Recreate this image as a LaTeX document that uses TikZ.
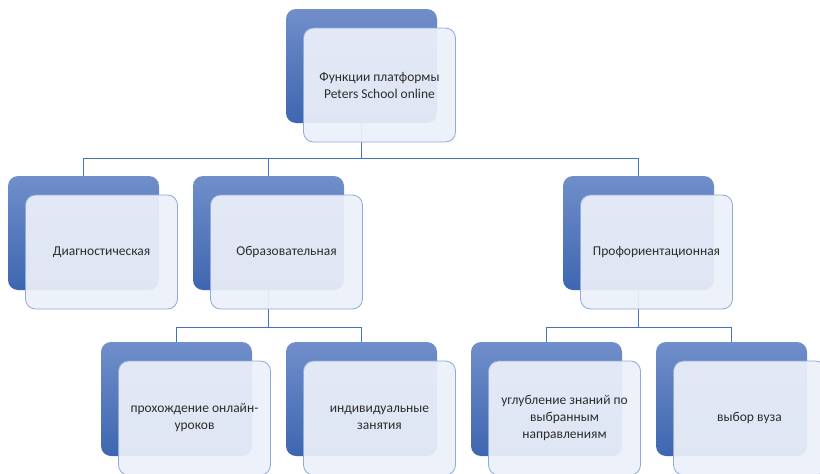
\documentclass[tikz,border=0pt]{standalone}
\usepackage{fontspec}
\setmainfont{Carlito}
\usepackage{tikz}
\usetikzlibrary{positioning, backgrounds}
\definecolor{backtop}{RGB}{112,142,202}
\definecolor{backbot}{RGB}{62,102,176}
\definecolor{frontfill}{RGB}{236,240,249}
\definecolor{frontline}{RGB}{143,170,220}
\definecolor{linkblue}{RGB}{68,114,196}
\definecolor{txtgray}{RGB}{45,45,45}

\begin{document}
\begin{tikzpicture}[
    x=1pt, y=-1pt,
    every node/.style={font=\fontsize{13.5}{17}\selectfont, text=txtgray},
    back/.style={rounded corners=10pt, minimum width=151pt, minimum height=114pt,
        inner sep=0pt, outer sep=0pt, top color=backtop, bottom color=backbot},
    front/.style={draw=frontline, line width=0.8pt, rounded corners=10pt,
        fill=frontfill, fill opacity=0.93, text opacity=1,
        minimum width=152pt, minimum height=114pt, align=center},
    link/.style={draw=linkblue, line width=0.9pt},
]
\useasboundingbox (0,0) rectangle (820,474);

% ── Top: platform functions ──
\node[back] (top) at (361.5,66) {};
\node[front, xshift=18pt, yshift=-19pt] (topf) at (top) {Функции платформы\\Peters School online};

% ── Second row ──
\node[back] (diag) at (83.5,233) {};
\node[front, xshift=18pt, yshift=-19pt] (diagf) at (diag) {Диагностическая};

\node[back, right=34pt of diag] (edu) {};
\node[front, xshift=18pt, yshift=-19pt] (eduf) at (edu) {Образовательная};

\node[back, right=219pt of edu] (prof) {};
\node[front, xshift=18pt, yshift=-19pt] (proff) at (prof) {Профориентационная};

% ── Third row ──
\node[back] (online) at (176.5,399) {};
\node[front, xshift=18pt, yshift=-19pt] (onlinef) at (online) {прохождение онлайн-\\уроков};

\node[back, right=34pt of online] (indiv) {};
\node[front, xshift=18pt, yshift=-19pt] (indivf) at (indiv) {индивидуальные\\занятия};

\node[back, right=34pt of indiv] (deep) {};
\node[front, xshift=18pt, yshift=-19pt] (deepf) at (deep) {углубление знаний по\\выбранным\\направлениям};

\node[back, right=34pt of deep] (univ) {};
\node[front, xshift=18pt, yshift=-19pt] (univf) at (univ) {выбор вуза};

% ── Connectors (behind the boxes) ──
\begin{pgfonlayer}{background}
\fill[white] (0,0) rectangle (820,474);
\draw[link] (top.south) -- ++(0,35) -| (diag.north);
\draw[link] (top.south) -- ++(0,35) -| (edu.north);
\draw[link] (top.south) -- ++(0,35) -| (prof.north);

\draw[link] (edu.south) -- ++(0,37) -| (online.north);
\draw[link] (edu.south) -- ++(0,37) -| (indiv.north);
\draw[link] (prof.south) -- ++(0,37) -| (deep.north);
\draw[link] (prof.south) -- ++(0,37) -| (univ.north);
\end{pgfonlayer}

\end{tikzpicture}
\end{document}
